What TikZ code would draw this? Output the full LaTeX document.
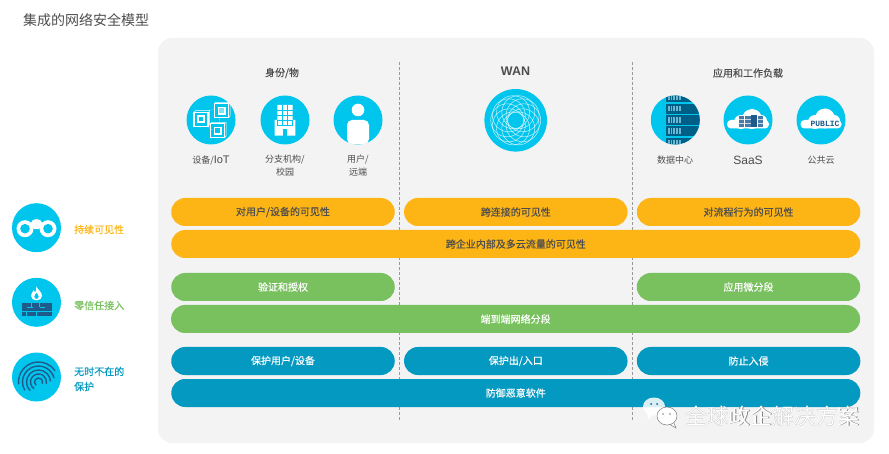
\documentclass[tikz,border=0pt]{standalone}
\usepackage{fontspec}
\usepackage{tikz}
\usetikzlibrary{positioning}
\setmainfont{Noto Sans CJK SC}
\newfontfamily\medfont[FakeBold=0.35]{Noto Sans CJK SC}
\newfontfamily\latfont{Liberation Sans}
\newfontfamily\pubfont{Liberation Mono}
\definecolor{panelgray}{HTML}{F3F3F3}
\definecolor{iconblue}{HTML}{00C6EE}
\definecolor{deepblue}{HTML}{1F5A8A}
\definecolor{rackblue}{HTML}{005F86}
\definecolor{slotblue}{HTML}{6FB5D0}
\definecolor{serverblue}{HTML}{4A7BA7}
\definecolor{visyellow}{HTML}{FDB515}
\definecolor{zerogreen}{HTML}{79C05F}
\definecolor{guardblue}{HTML}{0499C0}
\definecolor{labelgray}{HTML}{4D4D4D}
\tikzstyle{pill}=[rounded corners=13.9pt,minimum height=28pt,inner sep=0pt,font=\medfont\fontsize{10}{11}\selectfont]
\tikzstyle{yellowpill}=[pill,fill=visyellow,text=labelgray]
\tikzstyle{greenpill}=[pill,fill=zerogreen,text=white]
\tikzstyle{bluepill}=[pill,fill=guardblue,text=white]
\tikzstyle{shortpill}=[minimum width=223.5pt]
\tikzstyle{longpill}=[minimum width=689pt]
\tikzstyle{smallicon}=[circle,fill=iconblue,minimum size=49pt,inner sep=0pt]
\tikzstyle{iconlabel}=[text=labelgray,align=center,inner sep=0pt,font=\fontsize{9}{13}\selectfont]
\tikzstyle{headlabel}=[text=labelgray,inner sep=0pt,font=\medfont\fontsize{10}{11}\selectfont]
\tikzstyle{sidelabel}=[anchor=west,align=left,inner sep=0pt,font=\medfont\fontsize{10}{15}\selectfont]
\begin{document}
\begin{tikzpicture}[x=1pt,y=-1pt]
  \useasboundingbox (0,0) rectangle (889,454);
  \node[anchor=west,inner sep=0pt,text=labelgray,font=\fontsize{14}{16}\selectfont] (title) at (23,20) {集成的网络安全模型};
  \fill[panelgray,rounded corners=14pt] (158,38) rectangle (874,443);
  \draw[black!40,dash pattern=on 3pt off 2pt,line width=0.9pt] (399.5,62) -- (399.5,420);
  \draw[black!40,dash pattern=on 3pt off 2pt,line width=0.9pt] (632,62) -- (632,420);
  % column heads
  \node[headlabel] (identity) at (282,73) {身份/物};
  \node[headlabel,font=\latfont\bfseries\fontsize{12.5}{14}\selectfont] (wan) at (515.5,71) {WAN};
  \node[headlabel] (apps) at (748,73) {应用和工作负载};
  % icon discs
  \node[smallicon] (iot) at (211,120) {};
  \node[smallicon] (branch) at (285,120) {};
  \node[smallicon] (user) at (358,120) {};
  \node[smallicon,minimum size=62.6pt] (wancircle) at (515.7,120.3) {};
  \node[smallicon] (dc) at (675.3,120) {};
  \node[smallicon] (saas) at (748,120) {};
  \node[smallicon] (public) at (821,120) {};
  \node[smallicon] (binoculars) at (36.5,227.7) {};
  \node[smallicon] (firewall) at (36.5,302.3) {};
  \node[smallicon] (fingerprint) at (36.5,377) {};
  % icon captions
  \node[iconlabel,anchor=north] (iotlabel) at (211,155.5) {设备/{\latfont\fontsize{11}{13}\selectfont IoT}};
  \node[iconlabel,anchor=north] (branchlabel) at (285,154.5) {分支机构/\\校园};
  \node[iconlabel,anchor=north] (userlabel) at (358,154.5) {用户/\\远端};
  \node[iconlabel,anchor=north] (dclabel) at (675,156) {数据中心};
  \node[iconlabel,anchor=north,font=\latfont\fontsize{12}{13}\selectfont] (saaslabel) at (748,155.5) {SaaS};
  \node[iconlabel,anchor=north] (publiclabel) at (821,156) {公共云};
  % devices
  \begin{scope}[shift={(iot.center)}]
    \draw[white,densely dotted] (-3,-9) -- (4,-12);
    \draw[white,densely dotted] (-3,7) -- (1,10);
    \draw[white,densely dotted] (9,-2) -- (8,3);
    \foreach \cx/\cy/\mid in {-9.5/-1.3/iconblue,11/-9.7/white!50!iconblue,7/10.3/iconblue}{
      \draw[white,line width=1.2pt] (\cx-7.5,\cy-6.5) rectangle (\cx+6.5,\cy+7.5);
      \draw[white,line width=0.5pt] (\cx-7.5,\cy-6.5) -- (\cx-6,\cy-8) -- (\cx+8,\cy-8) -- (\cx+8,\cy+6) -- (\cx+6.5,\cy+7.5);
      \fill[white] (\cx-4.5,\cy-3.5) rectangle (\cx+3.5,\cy+4.5);
      \fill[\mid] (\cx-2.8,\cy-1.8) rectangle (\cx+1.8,\cy+2.8);
    }
  \end{scope}
  % branch building
  \begin{scope}[shift={(branch.center)}]
    \fill[white] (-7.7,-15) rectangle (7.7,0) (-10.3,0) rectangle (10.3,15.7);
    \foreach \gx in {-2.6,2.6}
      \draw[iconblue,line width=0.5pt] (\gx,-15) -- (\gx,5);
    \foreach \gy in {-10,-5,0,5}
      \draw[iconblue,line width=0.5pt] (-7.7,\gy) -- (7.7,\gy);
    \draw[iconblue,line width=0.5pt] (-7.7,0) -- (-7.7,5) (7.7,0) -- (7.7,5);
    \fill[iconblue] (-1.8,9) rectangle (1.8,15.7);
  \end{scope}
  % person
  \begin{scope}[shift={(user.center)}]
    \fill[white] (0,-10) circle (6.3);
    \fill[white,rounded corners=5pt] (-11,24) -- (-11,0) -- (11,0) -- (11,24) -- cycle;
  \end{scope}
  % rosette
  \begin{scope}[shift={(wancircle.center)}]
    \foreach \a in {0,36,...,324}
      \draw[white,opacity=0.7,line width=0.55pt] (\a:8.5) circle (16.5);
  \end{scope}
  % server rack
  \begin{scope}
    \clip (dc.center) circle (24.5);
    \begin{scope}[shift={(dc.center)}]
      \foreach \ry in {-22.6,-11.3,0,11.3,22.6}{
        \fill[rackblue] (-9.3,\ry-5) rectangle (26,\ry+5);
        \foreach \sx in {-7.6,-4.8,...,6}
          \fill[slotblue] (\sx,\ry-2.8) rectangle ++(1.8,5.6);
      }
    \end{scope}
  \end{scope}
  % saas cloud
  \begin{scope}[shift={(saas.center)}]
    \fill[white,rounded corners=4pt] (-21,0) rectangle (21,8.5);
    \fill[white] (-7,2) circle (7) (4,-1) circle (10) (13,1) circle (6);
    \foreach \sl in {-9.3,-2.7,10}{
      \fill[serverblue] (\sl,-4) rectangle ++(5.2,11.3);
      \draw[white!70!serverblue,line width=0.5pt] (\sl,-0.3) -- ++(5.2,0) (\sl,3.5) -- ++(5.2,0);
    }
    \fill[deepblue] (3.3,-5.3) rectangle (9,7.3);
  \end{scope}
  % public cloud
  \begin{scope}[shift={(public.center)}]
    \fill[white,rounded corners=4pt] (-20.5,0) rectangle (20.5,8.5);
    \fill[white] (-6,2) circle (7) (4,-1.5) circle (10) (13,1) circle (6);
  \end{scope}
  \node[inner sep=0pt,text=deepblue,font=\pubfont\bfseries\fontsize{8}{9}\selectfont] (publictext) at (825,124) {PUBLIC};
  % binoculars
  \begin{scope}[shift={(binoculars.center)}]
    \fill[white] (0,-3.5) ellipse (6 and 5);
    \fill[white] (-11.5,1) circle (8.5) (11.5,1) circle (8.5);
    \fill[iconblue] (-11.5,1) circle (4.8) (11.5,1) circle (4.8) (0,5) circle (2.2);
  \end{scope}
  % flame and wall
  \begin{scope}[shift={(firewall.center)}]
    \fill[white] (0,-16) .. controls (1,-12) and (5.5,-11) .. (5.5,-6.5) .. controls (5.5,-3.5) and (3,-2) .. (0,-2) .. controls (-3,-2) and (-5.5,-3.5) .. (-5.5,-6.5) .. controls (-5.5,-9) and (-3.5,-10) .. (-3,-12) .. controls (-2,-11) and (-1.5,-11) .. (-1,-10) .. controls (-0.5,-12) and (-0.5,-14) .. (0,-16);
    \fill[iconblue] (0,-9.5) .. controls (1,-8) and (2.2,-7) .. (2.2,-5.5) .. controls (2.2,-4.3) and (1,-3.5) .. (0,-3.5) .. controls (-1,-3.5) and (-2.2,-4.3) .. (-2.2,-5.5) .. controls (-2.2,-7) and (-1,-8) .. (0,-9.5);
    \fill[deepblue] (-15,0.5) rectangle (15,13.7);
    \draw[iconblue,line width=0.7pt] (-15,9.2) -- (15,9.2);
    \draw[iconblue,line width=0.7pt] (-10,4.8) -- (-4,4.8) (3,4.8) -- (8,4.8) (-5,0.5) -- (-5,4.8) (3,0.5) -- (3,4.8) (-10,9.2) -- (-10,13.7) (-0.5,9.2) -- (-0.5,13.7);
  \end{scope}
  % fingerprint ridges
  \begin{scope}[shift={(fingerprint.center)}]
    \clip (0,0) circle (21);
    \foreach \r/\sa/\ea in {4/130/380,8/125/370,12/135/355,16/150/345,20/175/325}
      \draw[deepblue,line width=1.4pt,line cap=round] ([shift={(\sa:\r)}]2,5) arc[start angle=\sa,end angle=\ea,radius=\r];
  \end{scope}
  % side headings
  \node[sidelabel,text=visyellow] (vislabel) at (74,229.5) {持续可见性};
  \node[sidelabel,text=zerogreen] (zerolabel) at (74,305.5) {零信任接入};
  \node[sidelabel,text=guardblue] (guardlabel) at (74,379) {无时不在的\\保护};
  % visibility rows
  \node[yellowpill,shortpill] (visuser) at (283,212) {对用户/设备的可见性};
  \node[yellowpill,shortpill,right=8.9pt of visuser] (visconn) {跨连接的可见性};
  \node[yellowpill,shortpill,right=8.9pt of visconn] (visflow) {对流程行为的可见性};
  \node[yellowpill,longpill,below=3.6pt of visconn] (viscloud) {跨企业内部及多云流量的可见性};
  % zero trust rows
  \node[greenpill,shortpill] (auth) at (283,287) {验证和授权};
  \node[greenpill,shortpill] (microseg) at (748.5,287) {应用微分段};
  \node[greenpill,longpill] (segment) at (515.6,319) {端到端网络分段};
  % protection rows
  \node[bluepill,shortpill] (guarduser) at (283,361) {保护用户/设备};
  \node[bluepill,shortpill,right=8.9pt of guarduser] (guardedge) {保护出/入口};
  \node[bluepill,shortpill,right=8.9pt of guardedge] (intrusion) {防止入侵};
  \node[bluepill,longpill,below=3.6pt of guardedge] (malware) {防御恶意软件};
  % account mark laid over the last row
  \fill[white,opacity=0.85] (654,406.5) ellipse (11 and 9);
  \fill[white,opacity=0.85] (647,412) -- (648,420) -- (654,414) -- cycle;
  \draw[gray,fill=white,line width=0.5pt] (676,428) -- (673.5,422) -- (670,424.5) -- cycle;
  \draw[gray,fill=white,line width=0.5pt] (667,416) ellipse (10 and 9);
  \fill[deepblue] (651,404) circle (1) (657,404) circle (1);
  \fill[gray] (663,414) circle (0.8) (670,414) circle (0.8);
  \node[anchor=west,inner sep=0pt,text=black!50,font=\fontsize{21.8}{24}\selectfont] (markshadow) at (685.5,416.5) {全球政企解决方案};
  \node[anchor=west,inner sep=0pt,text=white,font=\fontsize{21.8}{24}\selectfont] (marktext) at (685,416) {全球政企解决方案};
\end{tikzpicture}
\end{document}
